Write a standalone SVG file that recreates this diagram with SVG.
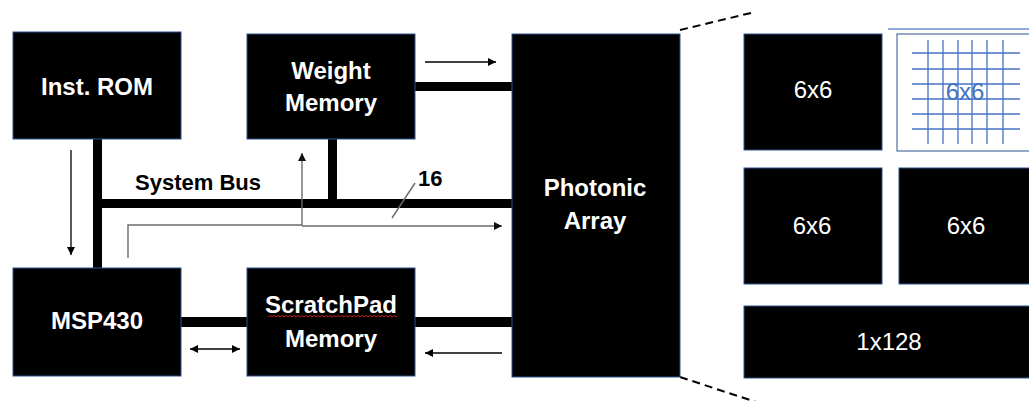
<svg xmlns="http://www.w3.org/2000/svg" width="1029" height="401" viewBox="0 0 1029 401">
<style>
.node{fill:#000;stroke:#2F528F;stroke-width:1}
.lbl{font-family:"Liberation Sans",Arial,sans-serif;font-weight:bold;font-size:24px;fill:#fff;text-anchor:middle}
.cell{font-family:"Liberation Sans",Arial,sans-serif;font-size:24px;fill:#fff;text-anchor:middle}
.bar{fill:#000}
.thin{stroke:#000;stroke-width:1.3;fill:none}
.gray{stroke:#6b6b6b;stroke-width:1.4;fill:none}
.grid{stroke:#4472C4;stroke-width:1.3}
.dash{stroke:#000;stroke-width:2;stroke-dasharray:8,5;fill:none}
.bus{font-family:"Liberation Sans",Arial,sans-serif;font-weight:bold;font-size:22px;fill:#000}
</style>
<defs>
<marker id="ah" viewBox="0 0 10 10" refX="10" refY="5" markerWidth="8" markerHeight="8" markerUnits="userSpaceOnUse" orient="auto-start-reverse"><path d="M0,0 L10,5 L0,10 z" fill="#000"/></marker>
<marker id="ahg" viewBox="0 0 10 10" refX="10" refY="5" markerWidth="8" markerHeight="8" markerUnits="userSpaceOnUse" orient="auto"><path d="M0,0 L10,5 L0,10 z" fill="#111"/></marker>
</defs>
<rect width="1029" height="401" fill="#fff"/>
<g id="connectors">
<rect class="bar" x="93" y="139" width="9" height="129"/>
<rect class="bar" x="93" y="199" width="419" height="9"/>
<rect class="bar" x="328" y="139" width="9" height="69"/>
<rect class="bar" x="415" y="82" width="97" height="9"/>
<rect class="bar" x="181" y="317" width="66" height="10"/>
<rect class="bar" x="415" y="317" width="97" height="10"/>
<line class="thin" x1="71" y1="150" x2="71" y2="255" marker-end="url(#ah)"/>
<line class="thin" x1="425" y1="62" x2="496" y2="62" marker-end="url(#ah)"/>
<line class="thin" x1="190" y1="349" x2="240" y2="349" marker-start="url(#ah)" marker-end="url(#ah)"/>
<line class="thin" x1="502" y1="353" x2="425" y2="353" marker-end="url(#ah)"/>
<polyline class="gray" points="128,258 128,225 302,225"/>
<line class="gray" x1="302" y1="226" x2="302" y2="153" marker-end="url(#ahg)"/>
<line class="gray" x1="302" y1="226" x2="502" y2="226" marker-end="url(#ahg)"/>
<line class="gray" x1="392" y1="218" x2="415" y2="183"/>
<text class="bus" x="135" y="190">System Bus</text>
<text class="bus" x="418" y="186">16</text>
<line class="dash" x1="680" y1="30" x2="755" y2="12"/>
<line class="dash" x1="680" y1="377" x2="756" y2="402"/>
</g>
<g id="inst-rom"><rect class="node" x="13" y="32" width="168" height="107"/><text class="lbl" x="97" y="95">Inst. ROM</text></g>
<g id="weight-memory"><rect class="node" x="247" y="34" width="168" height="105"/><text class="lbl" x="331" y="79">Weight</text><text class="lbl" x="331" y="111">Memory</text></g>
<g id="msp430"><rect class="node" x="13" y="268" width="168" height="108"/><text class="lbl" x="97" y="329">MSP430</text></g>
<g id="scratchpad"><rect class="node" x="247" y="268" width="168" height="108"/><text class="lbl" x="331" y="313">ScratchPad</text><path d="M268,317 l2,-1.5 l2,1.5 l2,-1.5 l2,1.5 l2,-1.5 l2,1.5 l2,-1.5 l2,1.5 l2,-1.5 l2,1.5 l2,-1.5 l2,1.5 l2,-1.5 l2,1.5 l2,-1.5 l2,1.5 l2,-1.5 l2,1.5 l2,-1.5 l2,1.5 l2,-1.5 l2,1.5 l2,-1.5 l2,1.5 l2,-1.5 l2,1.5 l2,-1.5 l2,1.5 l2,-1.5 l2,1.5 l2,-1.5 l2,1.5 l2,-1.5 l2,1.5 l2,-1.5 l2,1.5 l2,-1.5 l2,1.5 l2,-1.5 l2,1.5 l2,-1.5 l2,1.5 l2,-1.5 l2,1.5 l2,-1.5 l2,1.5 l2,-1.5 l2,1.5 l2,-1.5 l2,1.5 l2,-1.5 l2,1.5 l2,-1.5 l2,1.5 l2,-1.5 l2,1.5 l2,-1.5 l2,1.5 l2,-1.5 l2,1.5 l2,-1.5 l2,1.5 l2,-1.5 l2,1.5 l2,-1.5" fill="none" stroke="#d02020" stroke-width="0.9"/><text class="lbl" x="331" y="347">Memory</text></g>
<g id="photonic-array"><rect class="node" x="512" y="34" width="168" height="343"/><text class="lbl" x="595" y="196">Photonic</text><text class="lbl" x="595" y="229">Array</text></g>
<g id="cell-1"><rect class="node" x="744" y="34" width="138" height="116"/><text class="cell" x="813" y="98">6x6</text></g>
<g id="cell-grid">
<line x1="888" y1="29" x2="1029" y2="29" stroke="#8FAADC" stroke-width="2"/>
<rect x="897" y="34" width="150" height="117" fill="#fff" stroke="#2F528F" stroke-width="1"/>
<g class="grid">
<line x1="928" y1="40" x2="928" y2="144"/><line x1="943" y1="40" x2="943" y2="144"/><line x1="958" y1="40" x2="958" y2="144"/><line x1="972" y1="40" x2="972" y2="144"/><line x1="987" y1="40" x2="987" y2="144"/><line x1="1003" y1="40" x2="1003" y2="144"/>
<line x1="912" y1="53" x2="1020" y2="53"/><line x1="912" y1="69" x2="1020" y2="69"/><line x1="912" y1="84" x2="1020" y2="84"/><line x1="912" y1="99" x2="1020" y2="99"/><line x1="912" y1="114" x2="1020" y2="114"/><line x1="912" y1="129" x2="1020" y2="129"/>
</g>
<text class="cell" x="965" y="100" style="fill:#4472C4">6x6</text>
</g>
<g id="cell-3"><rect class="node" x="744" y="168" width="138" height="116"/><text class="cell" x="812" y="234">6x6</text></g>
<g id="cell-4"><rect class="node" x="899" y="168" width="140" height="116"/><text class="cell" x="966" y="234">6x6</text></g>
<g id="cell-5"><rect class="node" x="744" y="306" width="295" height="72"/><text class="cell" x="889" y="350">1x128</text></g>
</svg>
